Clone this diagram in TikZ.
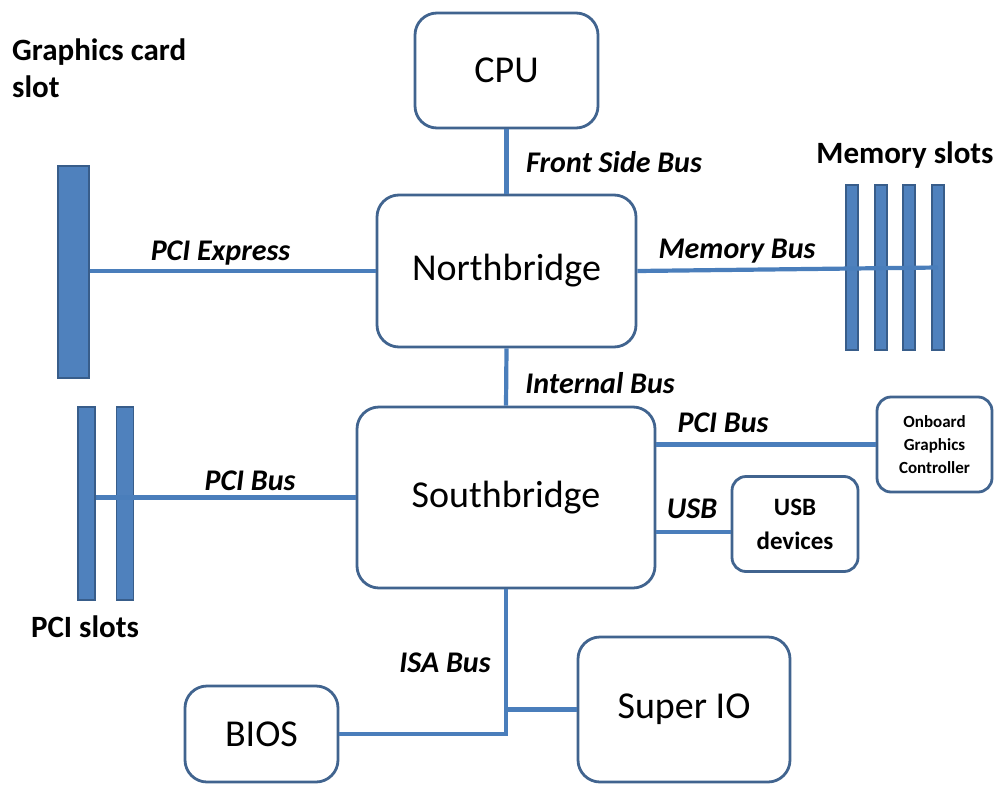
\documentclass[tikz,border=0pt]{standalone}
\usepackage{fontspec}
\setmainfont{Carlito}
\usetikzlibrary{calc}
\definecolor{busblue}{HTML}{4A7EBB}
\definecolor{boxedge}{HTML}{41648F}
\definecolor{barfill}{HTML}{4F81BD}
\definecolor{baredge}{HTML}{385D8A}
\tikzset{
  comp/.style={draw=boxedge, line width=2.8pt, rounded corners=22pt, fill=white, align=center, inner sep=0pt, font=\fontsize{38}{42}\selectfont},
  smallcomp/.style={draw=boxedge, line width=2.8pt, rounded corners=14pt, fill=white, align=center, inner sep=0pt},
  bar/.style={draw=baredge, line width=1.2pt, fill=barfill, inner sep=0pt},
  bus/.style={draw=busblue, line width=4.2pt},
  buslabel/.style={font=\fontsize{30}{32}\selectfont\bfseries\itshape, inner sep=0pt, anchor=base},
  slotlabel/.style={font=\fontsize{31}{37}\selectfont\bfseries, inner sep=0pt, anchor=base}
}
\begin{document}
\begin{tikzpicture}[x=1pt,y=-1pt]
\useasboundingbox (0,0) rectangle (1000,784);
% components
\node[comp, minimum width=183pt, minimum height=115pt] (cpu) at (506.5,70.5) {CPU};
\node[comp, minimum width=259pt, minimum height=152pt] (nb) at (506.5,271) {\raisebox{-5pt}{Northbridge}};
\node[comp, minimum width=298pt, minimum height=181pt] (sb) at (506,497.5) {Southbridge};
\node[smallcomp, minimum width=115pt, minimum height=95pt, font=\fontsize{17}{23}\selectfont\bfseries] (ogc) at (934.5,444.5) {Onboard\\Graphics\\Controller};
\node[smallcomp, minimum width=126pt, minimum height=95pt, font=\fontsize{25}{34}\selectfont\bfseries] (usbd) at (795,524) {USB\\devices};
\node[comp, minimum width=212pt, minimum height=145pt] (sio) at (684,709.5) {Super IO};
\node[comp, minimum width=153pt, minimum height=96pt] (bios) at (261.5,734) {BIOS};
% slots
\node[bar, minimum width=31pt, minimum height=212pt] (gslot) at (73.5,272) {};
\node[bar, minimum width=12pt, minimum height=165pt] (mem1) at (852,267.5) {};
\node[bar, minimum width=12pt, minimum height=165pt] (mem2) at (881,267.5) {};
\node[bar, minimum width=12pt, minimum height=165pt] (mem3) at (909,267.5) {};
\node[bar, minimum width=12pt, minimum height=165pt] (mem4) at (938,267.5) {};
\node[bar, minimum width=17pt, minimum height=193pt] (pci1) at (86.5,503.5) {};
\node[bar, minimum width=17pt, minimum height=193pt] (pci2) at (125,503.5) {};
% buses
\draw[bus] (cpu.south) -- (nb.north);
\draw[bus] (nb.west) -- (nb.west -| gslot.east);
\draw[bus] (nb.east) -- (mem4.center);
\draw[bus] (nb.south) -- (sb.north);
\draw[bus] (sb.west) -- (sb.west -| pci1.east);
\draw[bus] (ogc.west) -- (ogc.west -| sb.east);
\draw[bus] ([yshift=-8pt]usbd.west) -- ([yshift=-8pt]usbd.west -| sb.east);
\draw[bus] (sb.south) -- (sb.south |- bios.east) -- (bios.east);
\draw[bus] (sio.west) -- (sio.west -| sb.south);
% bus labels
\node[buslabel] (lfsb) at (614,172) {Front Side Bus};
\node[buslabel] (lpcie) at (220.5,260) {PCI Express};
\node[buslabel] (lmem) at (737,258) {Memory Bus};
\node[buslabel] (lint) at (600,393) {Internal Bus};
\node[buslabel] (lpcir) at (723,432) {PCI Bus};
\node[buslabel] (lusb) at (692,518) {USB};
\node[buslabel] (lpcil) at (250,490) {PCI Bus};
\node[buslabel] (lisa) at (445,672) {ISA Bus};
% slot labels
\node[slotlabel, anchor=base west, align=left] (lgs) at (12,97) {Graphics card\\slot};
\node[slotlabel] (lms) at (905,163) {Memory slots};
\node[slotlabel] (lps) at (85,637) {PCI slots};
\end{tikzpicture}
\end{document}
